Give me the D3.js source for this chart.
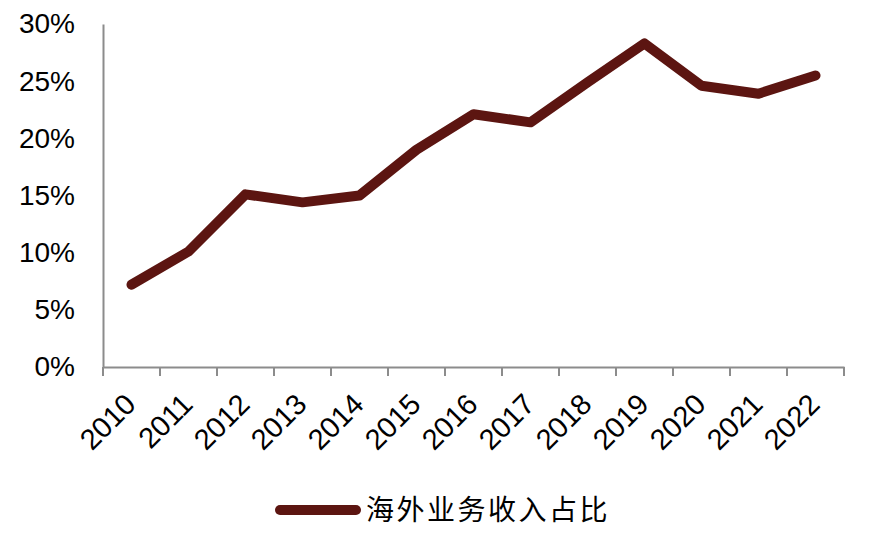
<!DOCTYPE html>
<html><head><meta charset="utf-8">
<script src="https://cdn.jsdelivr.net/npm/d3@7"></script>
<style>body{margin:0;background:#fff}</style>
</head><body><svg id="c" width="879" height="550"></svg>
<script>
const years = ["2010","2011","2012","2013","2014","2015","2016","2017","2018","2019","2020","2021","2022"];
const shares = [7.2, 10.1, 15.1, 14.4, 15.0, 19.0, 22.1, 21.4, 24.9, 28.3, 24.6, 23.9, 25.5];
const yTicks = [0, 5, 10, 15, 20, 25, 30];
const seriesName = "海外业务收入占比";

(function () {
const svg = d3.select("#c");
const mLeft = 103, mRight = 844, mTop = 24, mBottom = 367;
const color = "#5c1511";
const axisColor = "#8c8c8c";
const font = "'Liberation Sans', Arial, sans-serif";

const x = d3.scaleBand().domain(years).range([mLeft, mRight]);
const y = d3.scaleLinear().domain([0, 30]).range([mBottom, mTop]);

// y axis
const ya = svg.append("g").attr("transform", `translate(${mLeft},0)`)
  .call(d3.axisLeft(y).tickValues(yTicks).tickFormat(d => d + "%").tickSize(0).tickPadding(28));
ya.select(".domain").attr("stroke", axisColor).attr("stroke-width", 2);
ya.selectAll("text").attr("font-family", font).attr("font-size", 28).attr("fill", "#000");

// x axis
const xa = svg.append("g").attr("transform", `translate(0,${mBottom})`)
  .call(d3.axisBottom(x).tickSize(0).tickFormat(""));
xa.select(".domain").attr("stroke", axisColor).attr("stroke-width", 2);
xa.selectAll(".tick").remove();
const tickPos = years.map(d => x(d)).concat([x(years[years.length-1]) + x.bandwidth()]);
svg.append("g").selectAll("line").data(tickPos).join("line")
  .attr("x1", d => d).attr("x2", d => d).attr("y1", mBottom).attr("y2", mBottom + 9)
  .attr("stroke", axisColor).attr("stroke-width", 2);

svg.append("g").selectAll("text").data(years).join("text")
  .attr("transform", d => `translate(${x(d) + x.bandwidth()/2 + 6},${mBottom + 39}) rotate(-45)`)
  .attr("text-anchor", "end")
  .attr("font-family", font).attr("font-size", 29).attr("fill", "#000")
  .text(d => d);

// line
const line = d3.line().x((d, i) => x(years[i]) + x.bandwidth()/2).y(d => y(d));
svg.append("path").datum(shares).attr("d", line)
  .attr("fill", "none").attr("stroke", color).attr("stroke-width", 10)
  .attr("stroke-linejoin", "round").attr("stroke-linecap", "round");

// legend
svg.append("line").attr("x1", 280).attr("x2", 356).attr("y1", 510).attr("y2", 510)
  .attr("stroke", color).attr("stroke-width", 10).attr("stroke-linecap", "round");
svg.append("text").attr("x", 366).attr("y", 510).attr("dy", "0.35em")
  .attr("font-family", "'Noto Sans CJK SC', sans-serif").attr("font-size", 28)
  .attr("letter-spacing", 2.5).attr("fill", "#000")
  .text(seriesName);
})();
</script></body></html>
